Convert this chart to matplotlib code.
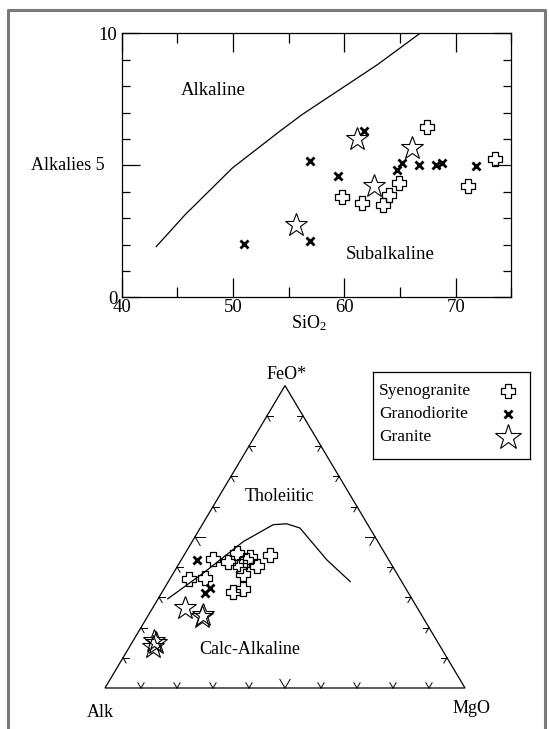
import numpy as np
import matplotlib
matplotlib.use('Agg')
import matplotlib.pyplot as plt
from matplotlib.path import Path
from matplotlib.lines import Line2D
from matplotlib.patches import Polygon

plt.rcParams['font.family'] = ['Liberation Serif', 'DejaVu Serif']
plt.rcParams['mathtext.fontset'] = 'custom'
plt.rcParams['mathtext.rm'] = 'Liberation Serif'
plt.rcParams['mathtext.it'] = 'Liberation Serif:italic'

# --- TAS (alkalies vs silica) data ---
syeno_sio2 = [59.8, 61.6, 63.5, 64.05, 64.9, 67.4, 71.1, 73.5]
syeno_alk = [3.80, 3.57, 3.51, 3.89, 4.33, 6.45, 4.21, 5.25]

grano_sio2 = [51.0, 56.9, 56.9, 59.4, 61.8, 64.7, 65.2, 66.7, 68.2, 68.8, 71.85]
grano_alk = [2.02, 5.18, 2.14, 4.61, 6.30, 4.82, 5.09, 5.00, 5.00, 5.10, 4.99]

gran_sio2 = [55.7, 61.1, 62.7, 66.1]
gran_alk = [2.75, 5.98, 4.21, 5.67]

# Irvine & Baragar alkaline / subalkaline divide
divide_sio2 = [43.1, 45.7, 49.95, 54.2, 56.2, 63.0, 66.8]
divide_alk = [1.92, 3.13, 4.90, 6.29, 6.92, 8.82, 10.0]

# --- AFM data (percent): Alk, FeO*, MgO ---
syeno_A = [48.6, 45.0, 41.0, 38.0, 42.4, 42.8, 37.8, 32.2, 58.6, 54.0, 48.7, 45.4, 39.6]
syeno_F = [42.6, 41.8, 44.6, 43.3, 40.2, 37.7, 40.2, 44.0, 36.0, 36.3, 31.6, 32.7, 42.4]
syeno_M = [8.8, 13.2, 14.4, 18.7, 17.4, 19.5, 22.0, 23.8, 5.4, 9.7, 19.7, 21.9, 18.0]

grano_A = [53.2, 54.3, 56.5]
grano_F = [42.4, 33.0, 31.4]
grano_M = [4.4, 12.7, 12.1]

gran_A = [64.6, 60.6, 61.4, 78.6, 79.7, 78.4]
gran_F = [26.4, 24.2, 23.4, 15.6, 13.7, 14.8]
gran_M = [9.0, 15.2, 15.2, 5.8, 6.6, 6.8]

# tholeiitic / calc-alkaline boundary
bound_A = [67.8, 53.7, 37.4, 26.3, 22.4, 19.4, 17.2, 14.3]
bound_F = [29.5, 38.0, 48.4, 54.0, 54.3, 52.9, 42.4, 35.2]
bound_M = [2.7, 8.3, 14.2, 19.7, 23.3, 27.7, 40.4, 50.5]

rock_names = ['Syenogranite', 'Granodiorite', 'Granite']

H = 0.84  # triangle height relative to its base


def ternary_xy(a, f, m):
    a, f, m = (np.asarray(v, float) for v in (a, f, m))
    s = a + f + m
    f, m = f / s, m / s
    return m + f / 2.0, f * H


# open Greek cross marker
w = 0.38
cross = Path([(-w, 1), (w, 1), (w, w), (1, w), (1, -w), (w, -w), (w, -1),
              (-w, -1), (-w, -w), (-1, -w), (-1, w), (-w, w), (-w, 1)],
             closed=True)

syeno_style = dict(marker=cross, ms=10.5, mfc='none', mec='black', mew=0.9, ls='none')
grano_style = dict(marker='x', ms=5.5, mec='black', mew=2.0, ls='none')
gran_style = dict(marker='*', ms=17, mfc='none', mec='black', mew=0.8, ls='none')

fig = plt.figure(figsize=(5.49, 7.29), dpi=100)

# outer frame
fig.add_artist(Line2D([7.5 / 549, 7.5 / 549, 545 / 549, 545 / 549],
                      [-0.01, 1 - 10 / 729, 1 - 10 / 729, -0.01],
                      transform=fig.transFigure, color='#7a7a7a', lw=2.2))

# ---------- TAS plot ----------
ax = fig.add_axes([121.7 / 549, 1 - 297.3 / 729, 389.6 / 549, 264 / 729])
ax.plot(divide_sio2, divide_alk, color='black', lw=0.9)
ax.plot(syeno_sio2, syeno_alk, **syeno_style)
ax.plot(grano_sio2, grano_alk, **grano_style)
ax.plot(gran_sio2, gran_alk, **gran_style)

ax.set_xlim(40, 75)
ax.set_ylim(0, 10)
ax.set_xticks([40, 50, 60, 70])
ax.set_xticks([45, 55, 65, 75], minor=True)
ax.set_yticks([0, 5, 10])
ax.set_yticklabels(['0', '', '10'])
ax.set_yticks(np.arange(0, 11, 1), minor=True)
ax.tick_params(which='both', direction='in', top=True, right=True,
               labelsize=13.5, width=0.9)
ax.tick_params(axis='x', which='major', length=14, pad=1.5)
ax.tick_params(axis='x', which='minor', length=7)
ax.tick_params(axis='y', which='major', length=13, pad=3)
ax.tick_params(axis='y', which='minor', length=6)
for sp in ax.spines.values():
    sp.set_linewidth(0.9)

ax.set_xlabel(r'SiO$_2$', fontsize=13, va='center')
ax.xaxis.set_label_coords(0.481, -0.098)
# the "5" of the y axis is written together with its title
ax.set_ylabel('Alkalies 5', fontsize=13, rotation=0, ha='right', va='center')
ax.yaxis.set_label_coords(-0.043, 0.5)

ax.text(48.25, 7.85, 'Alkaline', fontsize=13.5, ha='center', va='center')
ax.text(64.1, 1.62, 'Subalkaline', fontsize=13.5, ha='center', va='center')

# ---------- AFM ternary ----------
tx = fig.add_axes([105 / 549, 1 - 688 / 729, 360 / 549, 360 * H / 729])
tx.set_xlim(0, 1)
tx.set_ylim(0, H)
tx.axis('off')

corners = np.array([[0, 0], [1, 0], [0.5, H]])
tx.add_patch(Polygon(corners, closed=True, fill=False, ec='black', lw=0.9,
                     clip_on=False))

# chevron ticks: each arm runs parallel to one of the other two sides
A_pt, M_pt, F_pt = corners
for p0, p1, opp in [(A_pt, M_pt, F_pt), (M_pt, F_pt, A_pt), (F_pt, A_pt, M_pt)]:
    for i in range(1, 10):
        base = p0 + i / 10.0 * (p1 - p0)
        L = 0.028 if i == 5 else 0.017
        for d in (opp - p0, opp - p1):
            d = d / np.hypot(*d)
            tx.plot([base[0], base[0] + L * d[0]], [base[1], base[1] + L * d[1]],
                    color='black', lw=0.7, clip_on=False)

bx, by = ternary_xy(bound_A, bound_F, bound_M)
tx.plot(bx, by, color='black', lw=0.9, clip_on=False)

sx, sy = ternary_xy(syeno_A, syeno_F, syeno_M)
gx, gy = ternary_xy(grano_A, grano_F, grano_M)
rx, ry = ternary_xy(gran_A, gran_F, gran_M)
tx.plot(sx, sy, clip_on=False, **syeno_style)
tx.plot(gx, gy, clip_on=False, **grano_style)
tx.plot(rx, ry, clip_on=False, **gran_style)

tx.text(0.505, H + 0.032, 'FeO*', fontsize=13, ha='center', va='center')
tx.text(-0.014, -0.067, 'Alk', fontsize=13, ha='center', va='center')
tx.text(1.019, -0.058, 'MgO', fontsize=13, ha='center', va='center')
tx.text(0.486, 0.531, 'Tholeiitic', fontsize=13, ha='center', va='center')
tx.text(0.403, 0.108, 'Calc-Alkaline', fontsize=13, ha='center', va='center')

# ---------- legend box: names on the left, symbols on the right ----------
lg = fig.add_axes([373 / 549, 1 - 459 / 729, 157 / 549, 87 / 729])
lg.set_xlim(0, 157)
lg.set_ylim(87, 0)
lg.set_xticks([])
lg.set_yticks([])
for sp in lg.spines.values():
    sp.set_linewidth(0.9)
for row, (name, style) in enumerate(zip(rock_names,
                                        [syeno_style, grano_style, gran_style])):
    yrow = 19 + 23 * row
    lg.text(6, yrow, name, fontsize=12.5, ha='left', va='center')
    big = dict(style)
    if style is gran_style:
        big['ms'] = 19
    lg.plot([135], [yrow], clip_on=False, **big)

fig.savefig('out.png', dpi=100)
